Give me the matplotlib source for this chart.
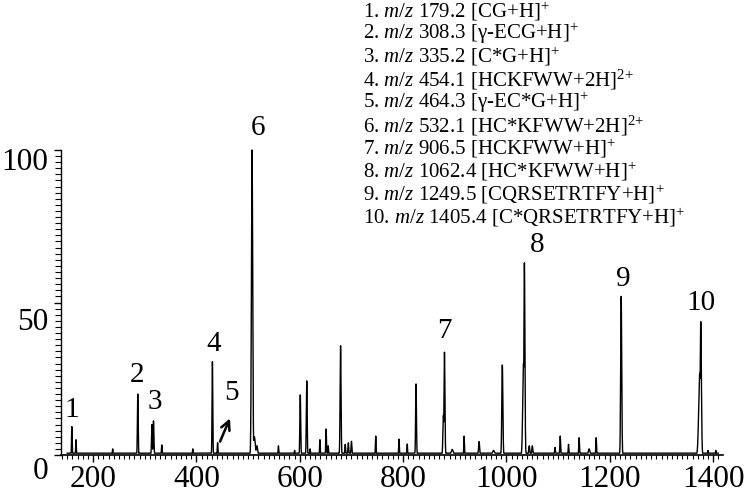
import numpy as np
import matplotlib
matplotlib.use("Agg")
import matplotlib.pyplot as plt
from matplotlib.ticker import MultipleLocator
from matplotlib.transforms import ScaledTranslation

plt.rcParams['font.family'] = ['Liberation Serif', 'DejaVu Serif']
plt.rcParams['mathtext.fontset'] = 'custom'
plt.rcParams['mathtext.rm'] = 'Liberation Serif'
plt.rcParams['mathtext.it'] = 'Liberation Serif:italic'

# ---- data ----
peak_mz = [159, 167, 238, 286.5, 314, 317, 333, 393, 431, 441,
           507.7, 512, 517, 558.7, 590, 601, 613.5, 620, 639, 651, 655,
           679, 688, 694, 700, 747, 792, 808, 825, 878, 880, 895, 918,
           947, 975, 992, 1033, 1034.7, 1044, 1050, 1094, 1104, 1120,
           1140.6, 1160, 1173.6, 1222, 1374, 1376, 1390, 1405]
peak_int = [9.3, 5, 2, 20, 10, 11.2, 3.3, 2, 30.6, 4,
            100, 6, 3, 3, 1.5, 19.7, 24.3, 2, 5, 8.5, 3,
            35.8, 3.5, 4, 4.5, 6.2, 5.2, 3.6, 23.3, 13, 33.7, 1.8, 6.2,
            4.4, 1.5, 29.5, 30, 63, 3, 3, 2.5, 6.2, 3.5,
            5.7, 2, 5.7, 52, 26.8, 43.7, 1.5, 1.5]
peak_width = [0.6, 0.6, 0.6, 0.7, 0.8, 0.8, 0.6, 0.6, 0.7, 0.6,
              1.2, 2.0, 1.5, 0.6, 0.6, 0.8, 0.8, 0.6, 0.6, 0.7, 0.6,
              0.9, 0.8, 0.8, 0.8, 0.6, 0.6, 0.6, 0.8, 1.0, 0.9, 2.0, 0.6,
              1.0, 2.0, 1.0, 1.5, 1.0, 1.0, 1.0, 0.8, 0.7, 0.6,
              0.7, 1.5, 0.7, 1.0, 2.0, 1.2, 0.6, 0.6]
baseline_level = 0.6
mz_start, mz_end = 150, 1410

label_text = ['1', '2', '3', '4', '5', '6', '7', '8', '9', '10']
label_mz = [159, 284.5, 318.8, 432.8, 468.3, 519, 879, 1059, 1225.8, 1376.8]
label_y = [14.8, 26.2, 17.5, 36.3, 20.2, 107.2, 40.7, 68.9, 57.7, 49.8]

legend_lines = [
    r"1. $m/z$ 179.2 [CG+H]$^{+}$",
    r"2. $m/z$ 308.3 [γ-ECG+H]$^{+}$",
    r"3. $m/z$ 335.2 [C*G+H]$^{+}$",
    r"4. $m/z$ 454.1 [HCKFWW+2H]$^{2{+}}$",
    r"5. $m/z$ 464.3 [γ-EC*G+H]$^{+}$",
    r"6. $m/z$ 532.1 [HC*KFWW+2H]$^{2{+}}$",
    r"7. $m/z$ 906.5 [HCKFWW+H]$^{+}$",
    r"8. $m/z$ 1062.4 [HC*KFWW+H]$^{+}$",
    r"9. $m/z$ 1249.5 [CQRSETRTFY+H]$^{+}$",
    r"10. $m/z$ 1405.4 [C*QRSETRTFY+H]$^{+}$",
]

xticks = [200, 400, 600, 800, 1000, 1200, 1400]
yticks = [0, 50, 100]

# ---- figure ----
fig = plt.figure(figsize=(7.5, 4.94), dpi=100)
ax = fig.add_axes([61/750, 1-455/494, 662/750, 305/494])

x = np.arange(mz_start, mz_end, 0.05)
y = np.full_like(x, baseline_level)
for m, h, w in zip(peak_mz, peak_int, peak_width):
    y = np.maximum(y, h * np.exp(-0.5 * ((x - m) / w) ** 2))
ax.plot(x, y, color='black', lw=1.0, clip_on=False)

ax.set_xlim(138, 1419)
ax.set_ylim(0, 100)
for s in ['top', 'right']:
    ax.spines[s].set_visible(False)
ax.spines['left'].set_linewidth(1.0)
ax.spines['bottom'].set_linewidth(1.2)

ax.set_xticks(xticks)
ax.set_xticklabels([str(t) for t in xticks])
ax.xaxis.set_minor_locator(MultipleLocator(10))
ax.set_yticks(yticks)
ax.set_yticklabels([str(t) for t in yticks])
ax.yaxis.set_minor_locator(MultipleLocator(2))
ax.tick_params(axis='x', which='major', direction='out', length=5, width=1, labelsize=22.5, pad=2)
ax.tick_params(axis='x', which='minor', direction='out', length=3, width=0.8)
ax.tick_params(axis='y', which='major', direction='out', length=5, width=1, labelsize=22.5, pad=4)
ax.tick_params(axis='y', which='minor', direction='out', length=4, width=0.8)

# shift y tick labels as in the reference
shifts = {0: (0, -13), 50: (0, -16), 100: (0, -9)}
for t, lab in zip(yticks, ax.get_yticklabels()):
    dx, dy = shifts[t]
    lab.set_transform(lab.get_transform() + ScaledTranslation(dx/100, dy/100, fig.dpi_scale_trans))

for t, mz, yy in zip(label_text, label_mz, label_y):
    ax.text(mz, yy, t, fontsize=21, ha='center', va='center')

ax.annotate('', xy=(465, 12), xytext=(445.7, 4.4),
            arrowprops=dict(arrowstyle='->', lw=1.8, color='black',
                            shrinkA=0, shrinkB=0, mutation_scale=16))

for i, line in enumerate(legend_lines):
    fig.text(363/750, (494 - (11 + i*22.9))/494, line, fontsize=15,
             ha='left', va='center')

fig.savefig('out.png', dpi=100)
